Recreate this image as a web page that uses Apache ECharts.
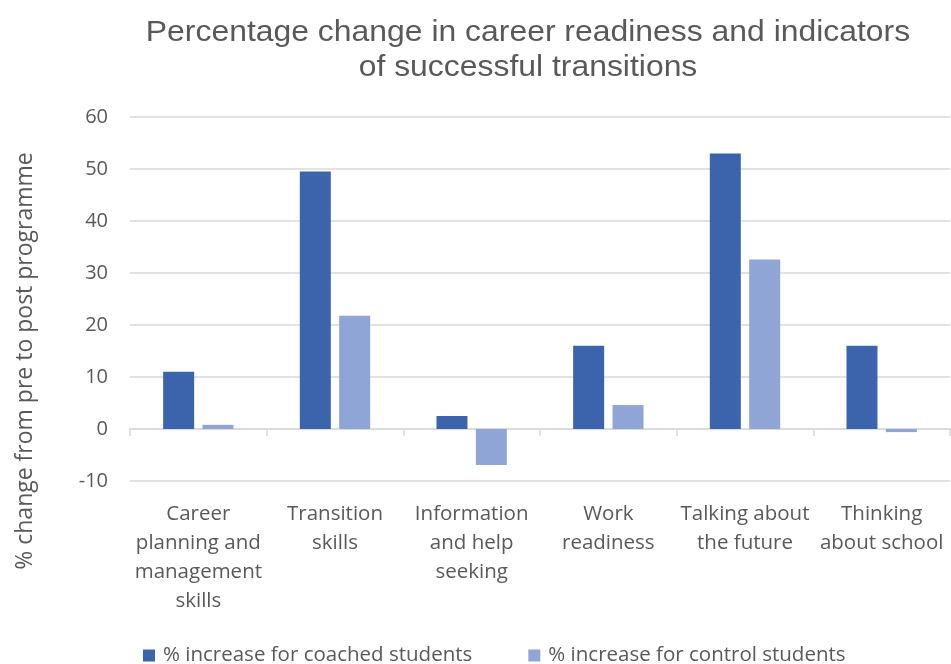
<!DOCTYPE html>
<html><head><meta charset="utf-8">
<script src="https://cdn.jsdelivr.net/npm/echarts@6/dist/echarts.min.js"></script>
<style>html,body{margin:0;padding:0;background:#fff}#c{width:951px;height:664px}</style>
</head><body><div id="c"></div>
<script>
const categories = ["Career\nplanning and\nmanagement\nskills", "Transition\nskills", "Information\nand help\nseeking", "Work\nreadiness", "Talking about\nthe future", "Thinking\nabout school"];
const coached = [11, 49.5, 2.5, 16, 53, 16];
const control = [0.8, 21.8, -6.9, 4.6, 32.6, -0.6];
const seriesNames = ["% increase for coached students", "% increase for control students"];
const titleLines = ["Percentage change in career readiness and indicators", "of successful transitions"];
const yAxisName = "% change from pre to post programme";

const labelFont = "'Open Sans', 'Noto Sans', sans-serif";
const chart = echarts.init(document.getElementById('c'));
chart.setOption({
  animation: false,
  grid: {left: 130, right: 1, top: 117, bottom: 183},
  graphic: [
    {type: 'text', x: 528, y: 15, scaleX: 1.1, style: {text: titleLines.join('\n'), font: "29px 'Liberation Sans', Arial, sans-serif", fill: '#595959', textAlign: 'center', textVerticalAlign: 'top', lineHeight: 35}},
    {type: 'text', x: 25, y: 361, rotation: Math.PI/2, style: {text: yAxisName, font: "23px " + labelFont, fill: '#595959', textAlign: 'center', textVerticalAlign: 'middle'}}
  ],
  legend: {left: 143, top: 645, itemWidth: 12, itemHeight: 12, itemGap: 56, icon: 'rect', padding: 0,
    textStyle: {fontSize: 20.5, fontFamily: labelFont, color: '#595959', padding: [0, 0, 0, 3]}},
  xAxis: [
    {type: 'category', data: categories, axisLine: {show: false, onZero: false}, axisTick: {show: false},
     axisLabel: {interval: 0, fontSize: 20.5, fontFamily: labelFont, color: '#595959', lineHeight: 29, margin: 19}},
    {type: 'category', data: categories, position: 'bottom', axisLine: {onZero: true, lineStyle: {color: '#d9d9d9', width: 1.5}},
     axisTick: {show: true, length: 7, lineStyle: {color: '#d9d9d9', width: 1.5}}, axisLabel: {show: false}}
  ],
  yAxis: {type: 'value', min: -10, max: 60, interval: 10,
    axisLine: {show: false}, axisTick: {show: false},
    axisLabel: {fontSize: 20, fontFamily: labelFont, color: '#595959', margin: 22},
    splitLine: {lineStyle: {color: '#d9d9d9', width: 1.5}}},
  series: [
    {name: seriesNames[0], type: 'bar', data: coached, barWidth: 31, barGap: '27%', itemStyle: {color: '#3B64AD'}},
    {name: seriesNames[1], type: 'bar', data: control, barWidth: 31, barGap: '27%', itemStyle: {color: '#8FA5D6'}}
  ]
});
</script></body></html>
